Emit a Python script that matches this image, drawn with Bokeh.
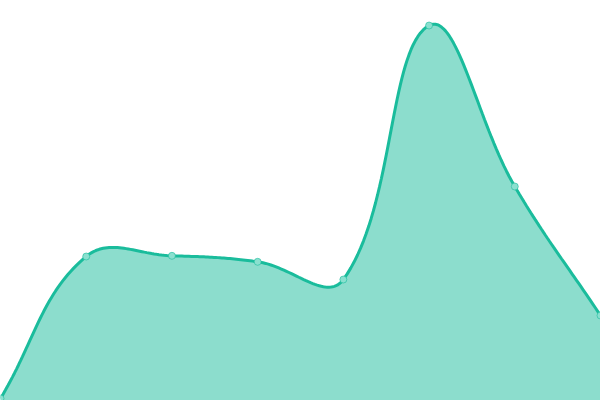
import numpy as np
from bokeh.plotting import figure
from bokeh.models import Range1d, ColumnDataSource
from bokeh.embed import file_html
from bokeh.resources import INLINE

# Data
labels = ["A", "B", "C", "D", "E", "F", "G", "H"]
values = [2, 144, 144.7, 138.7, 121, 375, 214, 85]

LINE = "#1abc9c"
W, H = 600, 400
YMAX = 400
TENSION = 0.4

xs = np.arange(len(values), dtype=float)
ys = np.array(values, dtype=float)

# Chart.js-like spline (tension 0.4) computed in pixel space
sx = W / (len(values) - 1)
sy = H / YMAX
px = xs * sx
py = ys * sy
n = len(px)
cps = []
for i in range(n):
    pxp, pyp = (px[i - 1], py[i - 1]) if i > 0 else (px[i], py[i])
    pxn, pyn = (px[i + 1], py[i + 1]) if i < n - 1 else (px[i], py[i])
    d01 = np.hypot(px[i] - pxp, py[i] - pyp)
    d12 = np.hypot(pxn - px[i], pyn - py[i])
    tot = d01 + d12
    s01 = d01 / tot if tot else 0
    s12 = d12 / tot if tot else 0
    fa = TENSION * s01
    fb = TENSION * s12
    cpx_prev = px[i] - fa * (pxn - pxp)
    cpy_prev = py[i] - fa * (pyn - pyp)
    cpx_next = px[i] + fb * (pxn - pxp)
    cpy_next = py[i] + fb * (pyn - pyp)
    cap = lambda v, lo, hi: min(max(v, lo), hi)
    cps.append((cap(cpx_prev, 0, W), cap(cpy_prev, 0, H), cap(cpx_next, 0, W), cap(cpy_next, 0, H)))

cx, cy = [], []
t = np.linspace(0, 1, 40)
for i in range(n - 1):
    p0 = np.array([px[i], py[i]])
    p1 = np.array([cps[i][2], cps[i][3]])
    p2 = np.array([cps[i + 1][0], cps[i + 1][1]])
    p3 = np.array([px[i + 1], py[i + 1]])
    seg = ((1 - t) ** 3)[:, None] * p0 + (3 * (1 - t) ** 2 * t)[:, None] * p1 \
        + (3 * (1 - t) * t ** 2)[:, None] * p2 + (t ** 3)[:, None] * p3
    if i > 0:
        seg = seg[1:]
    cx.extend(seg[:, 0] / sx)
    cy.extend(seg[:, 1] / sy)

curve = ColumnDataSource(dict(x=cx, y=cy, y0=[0] * len(cx)))
pts = ColumnDataSource(dict(x=xs, y=ys, label=labels))

p = figure(width=W, height=H, output_backend="svg", toolbar_location=None,
           x_range=Range1d(0, len(values) - 1), y_range=Range1d(0, YMAX),
           min_border=0, min_border_left=0, min_border_right=0,
           min_border_top=0, min_border_bottom=0)
p.axis.visible = False
p.grid.visible = False
p.outline_line_color = None
p.background_fill_color = "white"
p.border_fill_color = "white"

p.varea(x="x", y1="y0", y2="y", source=curve, fill_color=LINE, fill_alpha=0.5)
p.line(x="x", y="y", source=curve, line_color=LINE, line_width=3)
p.scatter(x="x", y="y", source=pts, size=7, fill_color="#8ae0cf",
          line_color=LINE, line_alpha=0.6, line_width=1)

html = file_html(p, INLINE)
html = html.replace("<head>", "<head><style>html,body{margin:0;padding:0;overflow:hidden}</style>", 1)
open("out.html", "w").write(html)
